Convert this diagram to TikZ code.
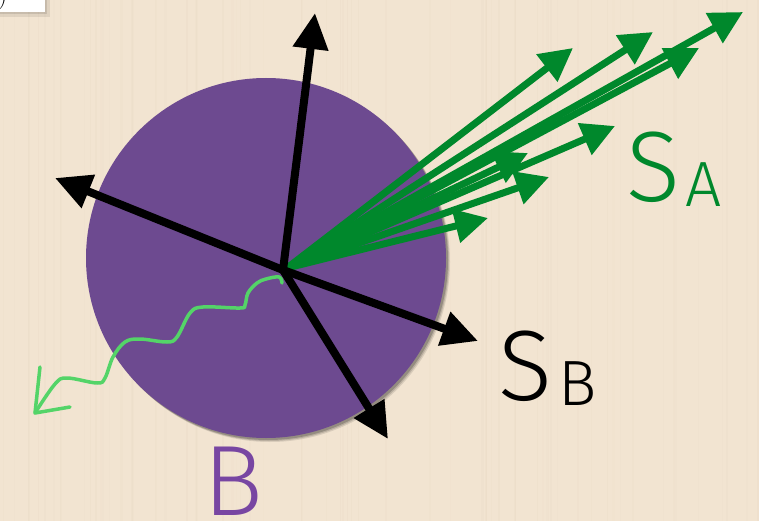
\documentclass[tikz,border=0pt]{standalone}
\usepackage{fontspec}
\newfontfamily\thinsans{Fira Sans Light}
\usetikzlibrary{arrows.meta}

\definecolor{woodbg}{RGB}{242,228,209}
\definecolor{woodgrain}{RGB}{222,205,182}
\definecolor{feltpurple}{RGB}{109,74,144}
\definecolor{labelpurple}{RGB}{120,70,162}
\definecolor{spingreen}{RGB}{0,136,44}
\definecolor{wavegreen}{RGB}{84,212,104}

\tikzset{
  axis/.style={draw=black, line width=8pt, -{Triangle[length=36pt,width=34pt]}},
  spin/.style={draw=spingreen, line width=7pt, -{Triangle[length=33pt,width=33pt]}},
  photon/.style={draw=wavegreen, line width=3.5pt, line cap=round, line join=round},
  biglabel/.style={inner sep=0pt, anchor=base west, font=\thinsans\fontsize{100}{100}\selectfont},
  sublabel/.style={inner sep=0pt, anchor=base west, font=\thinsans\fontsize{64}{64}\selectfont},
}

\begin{document}
\begin{tikzpicture}[x=1pt,y=-1pt]
\useasboundingbox (0,0) rectangle (759,521);

% wooden table top
\fill[woodbg] (0,0) rectangle (759,521);
\pgfmathsetseed{7}
\foreach \i in {1,...,70}{
  \pgfmathsetmacro\gx{rnd*759}
  \pgfmathsetmacro\gw{0.5+rnd*2}
  \pgfmathsetmacro\go{0.04+rnd*0.10}
  \draw[woodgrain, line width=\gw pt, opacity=\go] (\gx,0) -- (\gx,521);
}

% corner of a white card
\fill[black, opacity=0.08] (0,0) rectangle (50,17);
\fill[black, opacity=0.10] (0,0) rectangle (47,14);
\fill[white] (0,0) rectangle (45,12);
\begin{scope}
  \clip (0,0) rectangle (45,12);
  \node[inner sep=0pt, anchor=base west, font=\fontsize{26}{26}\selectfont] (cardtext) at (-2,4) {)};
\end{scope}

% felt disk with a shadow falling to the lower right
\foreach \d/\o in {4/0.10,3/0.14,2/0.20}{
  \fill[black, opacity=\o] ({266+\d},{258+\d}) circle (180);
}
\node[circle, fill=feltpurple, minimum size=360pt, inner sep=0pt] (disk) at (266,258) {};

% frame origin and axis tips
\coordinate (O) at (283,270);
\coordinate (G) at (287,268);
\coordinate (up) at (315,13);
\coordinate (left) at (55,178);
\coordinate (right) at (478,341);
\coordinate (down) at (388,439);

% spin vectors of A
\foreach \px/\py [count=\k] in {528/153, 573/48, 653/32, 699/48, 743/12, 615/126, 549/177, 488/218}{
  \coordinate (a\k) at (\px,\py);
  \draw[spin] (G) -- (a\k);
}

% axes of B
\draw[axis] (O) -- (up);
\draw[axis] (O) -- (left);
\draw[axis] (O) -- (right);
\draw[axis] (O) -- (down);

% emitted photon
\coordinate (wtip) at (35,413);
\coordinate (warm1) at (40,367);
\coordinate (warm2) at (70,407);
\draw[photon] plot[smooth, tension=0.6] coordinates {
  (282,283) (279,277) (266,279) (257,283) (248,293) (245,305) (240,308)
  (203,307) (190,313) (177,337) (167,342) (140,339) (125,342) (113,357)
  (105,378) (97,383) (67,378) (55,384) (35,413)};
\draw[photon] (warm1) -- (wtip) -- (warm2);

% labels
\node[biglabel, text=spingreen] (SA) at (626,202) {S};
\node[sublabel, text=spingreen] (SAsub) at (685,207) {A};
\node[biglabel, text=black] (SB) at (498,400) {S};
\node[sublabel, text=black] (SBsub) at (558,405) {B};
\node[biglabel, text=labelpurple] (Blabel) at (203,515) {B};
\end{tikzpicture}
\end{document}
